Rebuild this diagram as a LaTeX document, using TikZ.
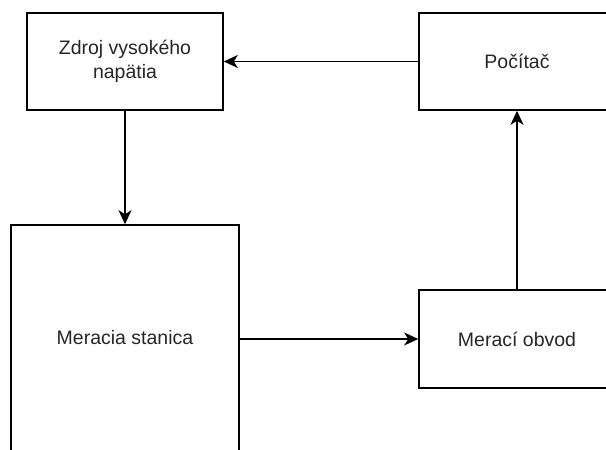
\documentclass[tikz,border=0pt]{standalone}
\usepackage{fontspec}
\setmainfont{Liberation Sans}
\usetikzlibrary{arrows.meta}
\begin{document}
\begin{tikzpicture}[x=1pt,y=1pt,
  blk/.style={draw=black, line width=1.6pt, fill=white, inner sep=0pt, align=center,
    font=\fontsize{19.5}{24.5}\selectfont, text=black!85},
  conn/.style={draw=black, line width=1.6pt, -{Stealth[length=14pt,width=13pt,inset=4pt]}}]
\useasboundingbox (0,0) rectangle (606,450);
\clip (0,0) rectangle (606,450);
\fill[white] (0,0) rectangle (606,450);
\node[blk, minimum width=196pt, minimum height=97pt] (zdroj) at (125,388.5) {Zdroj vysokého\\napätia};
\node[blk, minimum width=196pt, minimum height=97pt] (pc) at (517,388.5) {Počítač};
\node[blk, minimum width=228pt, minimum height=226pt] (ms) at (125,112) {Meracia stanica};
\node[blk, minimum width=196pt, minimum height=98pt] (mo) at (517,111) {Merací obvod};
\draw[conn] (pc.west) -- (zdroj.east);
\draw[conn] (zdroj.south) -- (ms.north);
\draw[conn] (ms.east |- mo.west) -- (mo.west);
\draw[conn] (mo.north) -- (pc.south);
\end{tikzpicture}
\end{document}
